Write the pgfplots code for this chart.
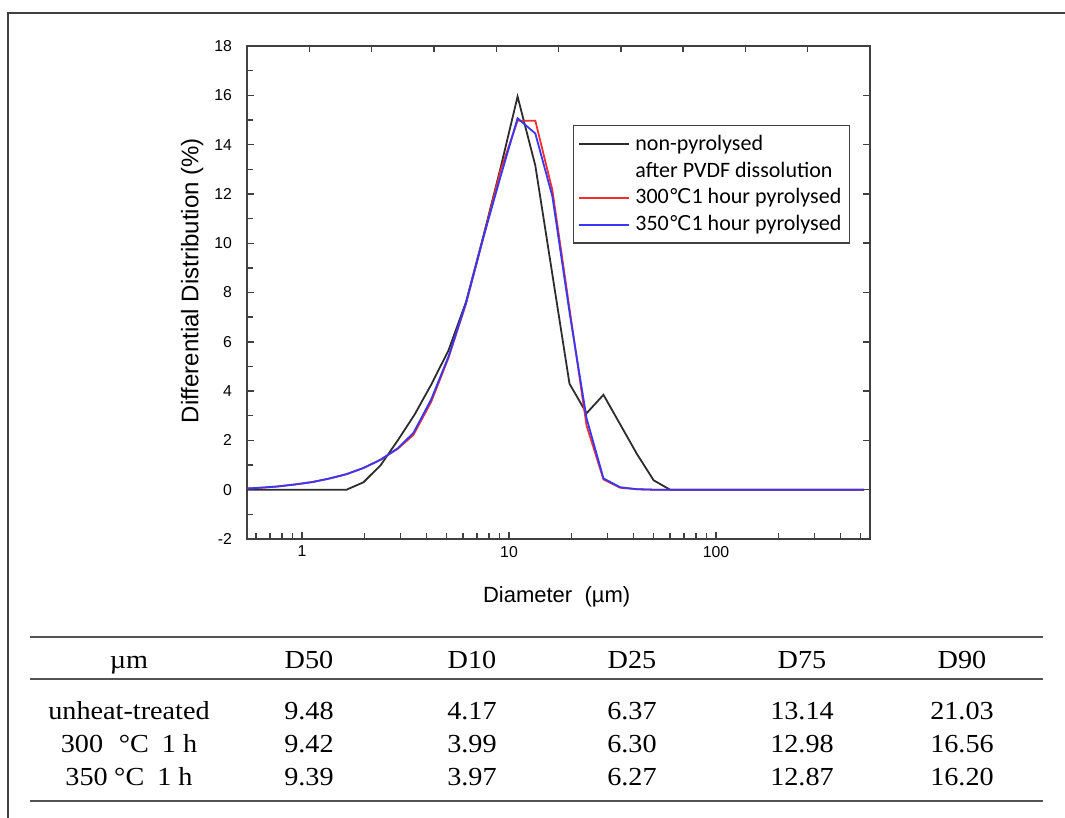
\documentclass[border=0pt]{standalone}
\usepackage{fontspec}
\setmainfont{Liberation Sans}
\newfontfamily\legfont{Carlito}
\newfontfamily\tabfont[FakeStretch=1.085]{Liberation Serif}
\newfontfamily\symf[Scale=0.92]{DejaVu Sans}
\usepackage{pgfplots}
\pgfplotsset{compat=1.18}
\definecolor{axgray}{RGB}{64,64,64}
\definecolor{cblack}{RGB}{45,45,45}
\definecolor{cred}{RGB}{245,45,45}
\definecolor{cblue}{RGB}{55,55,250}

\pgfplotstableread{
x y
0.545 0
1.64 0
1.98 0.30
2.40 1.00
2.90 2.00
3.50 3.05
4.20 4.25
5.10 5.65
6.20 7.62
7.50 10.25
9.10 13.05
11.0 15.95
13.4 13.15
19.6 4.30
23.7 3.10
28.6 3.85
41.5 1.45
50.0 0.38
60.0 0
520 0
}\tblblack

\pgfplotstableread{
x y
0.545 0.05
0.63 0.08
0.76 0.13
0.92 0.21
1.12 0.31
1.35 0.45
1.64 0.63
1.98 0.88
2.40 1.22
2.90 1.66
3.45 2.22
4.20 3.55
5.10 5.35
6.20 7.55
7.50 10.20
9.10 12.95
11.0 14.97
13.4 14.97
16.2 12.15
19.6 7.35
23.7 2.60
28.6 0.42
34.4 0.08
41.5 0.02
50 0
520 0
}\tblred

\pgfplotstableread{
x y
0.545 0.05
0.63 0.08
0.76 0.13
0.92 0.21
1.12 0.31
1.35 0.45
1.64 0.63
1.98 0.88
2.40 1.22
2.90 1.68
3.45 2.30
4.20 3.65
5.10 5.40
6.20 7.58
7.50 10.20
9.10 12.70
11.0 15.07
13.4 14.45
16.2 11.90
19.6 7.20
23.7 2.90
28.6 0.46
34.4 0.10
41.5 0.02
50 0
520 0
}\tblblue

\begin{document}
\begin{tikzpicture}
\useasboundingbox (0,0) rectangle (532.5pt,-409pt);
% outer frame (top and left edges visible)
\draw[axgray, line width=1pt] (4pt,-430pt) -- (4pt,-6.5pt) -- (545pt,-6.5pt);

\begin{axis}[
  at={(123.5pt,-269.5pt)}, anchor=south west,
  scale only axis, width=311.5pt, height=246.5pt,
  xmode=log, xmin=0.542, xmax=555, ymin=-2, ymax=18,
  axis line style={axgray, line width=0.9pt},
  tick style={axgray, line width=0.7pt},
  tick align=inside, major tick length=3.5pt, minor tick length=2.8pt,
  xtick={1,10,100}, xticklabels={1,10,100},
  minor xtick={0.6,0.7,0.8,0.9,2,3,4,5,6,7,8,9,20,30,40,50,60,70,80,90,200,300,400,500},
  ytick={-2,0,...,18}, minor ytick={-1,1,...,17},
  xtick pos=bottom, ytick pos=left,
  /pgf/number format/assume math mode=true,
  ticklabel style={font=\fontsize{7.9pt}{9pt}\selectfont},
  yticklabel style={xshift=-4pt},
  xlabel={Diameter\ \ (µm)},
  ylabel={Differential Distribution (\%)},
  xlabel style={font=\fontsize{11pt}{13pt}\selectfont, at={(axis description cs:0.497,-0.1176)}, anchor=center},
  ylabel style={font=\fontsize{12pt}{14pt}\selectfont, at={(axis description cs:-0.088,0.524)}, anchor=center},
  legend cell align=left,
  legend style={at={(0.523,0.84)}, anchor=north west, draw=axgray, line width=0.8pt,
    font=\fontsize{11pt}{13pt}\legfont, inner xsep=2pt, inner ysep=2.6pt,
    row sep=0.3pt, column sep=1pt, nodes={inner sep=2pt}},
  legend image code/.code={\draw[#1] (0pt,0pt) -- (25pt,0pt);},
]
\addplot[cblack, line width=0.9pt] table {\tblblack};
\addlegendentry{non-pyrolysed}
\addlegendimage{empty legend}
\addlegendentry{after PVDF dissolution}
\addplot[cred, line width=0.9pt] table {\tblred};
\addlegendentry{300{\symf ℃}1 hour pyrolysed}
\addplot[cblue, line width=0.9pt] table {\tblblue};
\addlegendentry{350{\symf ℃}1 hour pyrolysed}
\end{axis}

% top-axis and right-axis tick marks
\foreach \i in {1,...,9}
  \draw[axgray, line width=0.7pt] ({123.5pt+\i*31.15pt},-23pt) -- ++(0,-3pt);
\foreach \v in {0,2,...,16}
  \draw[axgray, line width=0.7pt] (435pt,{-269.5pt+(\v+2)*12.325pt}) -- ++(-3.5pt,0);

% table
\draw[axgray!90, line width=1pt] (15pt,-318.5pt) -- (521.5pt,-318.5pt);
\draw[axgray!90, line width=0.85pt] (15pt,-339.5pt) -- (521.5pt,-339.5pt);
\draw[axgray!90, line width=1.4pt] (15pt,-400.5pt) -- (521.5pt,-400.5pt);
\begin{scope}[every node/.style={anchor=base, inner sep=0pt, font=\tabfont\fontsize{13pt}{15pt}\selectfont}]
\node at (64.5pt,-334pt) {µm};
\node at (154.5pt,-334pt) {D50};
\node at (236pt,-334pt) {D10};
\node at (316pt,-334pt) {D25};
\node at (401pt,-334pt) {D75};
\node at (481pt,-334pt) {D90};
\node at (64.5pt,-359.5pt) {unheat-treated};
\node at (154.5pt,-359.5pt) {9.48};
\node at (236pt,-359.5pt) {4.17};
\node at (316pt,-359.5pt) {6.37};
\node at (401pt,-359.5pt) {13.14};
\node at (481pt,-359.5pt) {21.03};
\node at (64.5pt,-376pt) {300\hspace{0.6em}°C\hspace{0.5em}1 h};
\node at (154.5pt,-376pt) {9.42};
\node at (236pt,-376pt) {3.99};
\node at (316pt,-376pt) {6.30};
\node at (401pt,-376pt) {12.98};
\node at (481pt,-376pt) {16.56};
\node at (64.5pt,-392.5pt) {350\hspace{0.25em}°C\hspace{0.5em}1 h};
\node at (154.5pt,-392.5pt) {9.39};
\node at (236pt,-392.5pt) {3.97};
\node at (316pt,-392.5pt) {6.27};
\node at (401pt,-392.5pt) {12.87};
\node at (481pt,-392.5pt) {16.20};
\end{scope}
\end{tikzpicture}
\end{document}
